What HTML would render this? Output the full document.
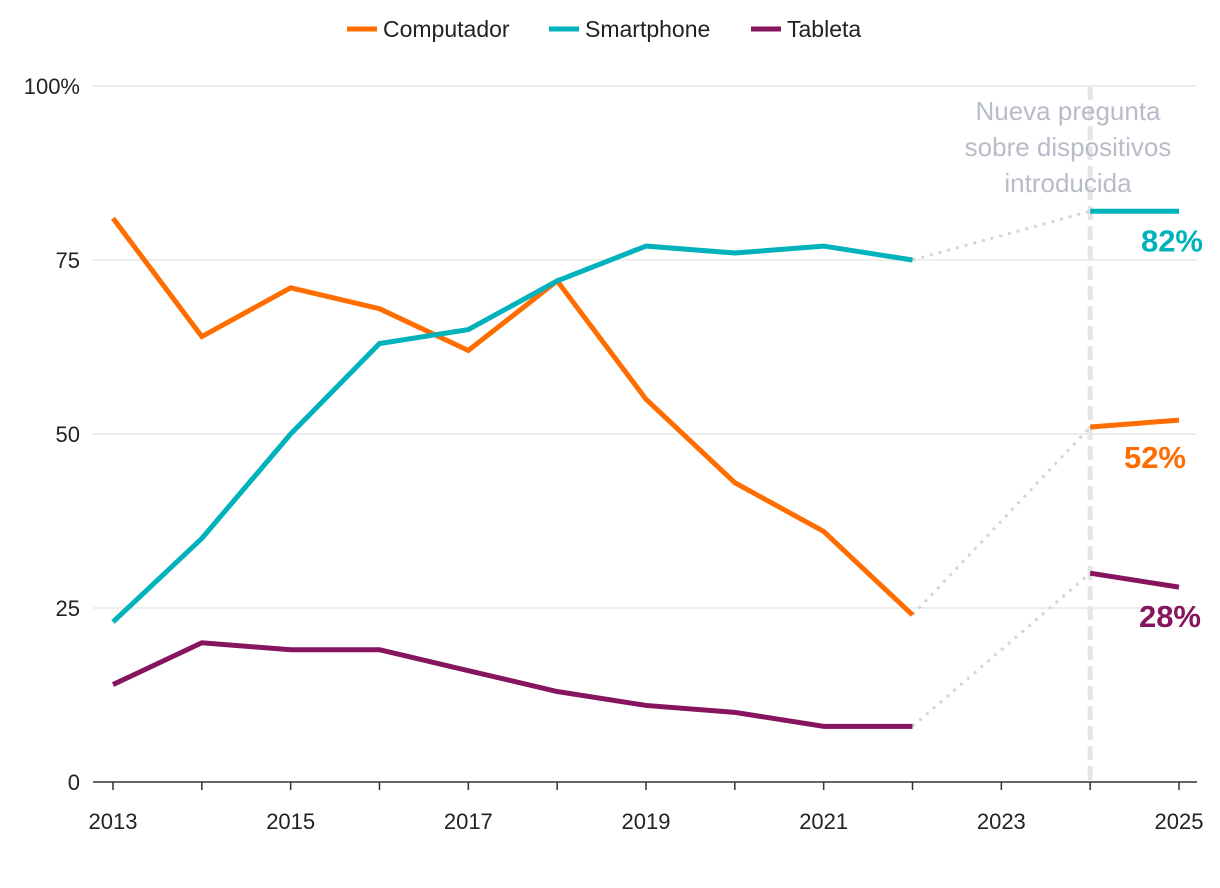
<!DOCTYPE html>
<html><head><meta charset="utf-8"><style>
body{margin:0;background:#fff;}
svg{display:block;font-family:"Liberation Sans",sans-serif;}
</style></head><body>
<svg id="chart" width="1220" height="888">
<g id="grid"></g><g id="axes"></g><g id="series"></g><g id="legend"></g>
</svg>
<script>
const years = [2013,2014,2015,2016,2017,2018,2019,2020,2021,2022];
const newYears = [2024,2025];
const computador = [81,64,71,68,62,72,55,43,36,24];
const smartphone = [23,35,50,63,65,72,77,76,77,75];
const tableta = [14,20,19,19,16,13,11,10,8,8];
const computadorNew = [51,52];
const smartphoneNew = [82,82];
const tabletaNew = [30,28];
const yTicks = [0,25,50,75,100];
const yTickLabels = ["0","25","50","75","100%"];
const xTicks = [2013,2015,2017,2019,2021,2023,2025];
const seriesNames = ["Computador","Smartphone","Tableta"];
const endLabels = ["52%","82%","28%"];

const NS="http://www.w3.org/2000/svg";
const X=y=>113+(y-2013)*(1179-113)/12;
const Y=v=>782-v*6.96;
function mk(tag,attrs,parent){const e=document.createElementNS(NS,tag);for(const k in attrs)e.setAttribute(k,attrs[k]);parent.appendChild(e);return e;}
const grid=document.getElementById('grid'),axes=document.getElementById('axes'),ser=document.getElementById('series'),leg=document.getElementById('legend');
yTicks.forEach((t,i)=>{
  if(t>0){const l=mk('line',{x1:93,x2:1197,y1:Y(t),y2:Y(t),stroke:'#dcdcdc','stroke-width':1},grid);
  
  }
  const tx=mk('text',{x:80,y:Y(t)+8,'text-anchor':'end','font-size':22,fill:'#222'},axes);tx.textContent=yTickLabels[i];
  
  
});
const base=mk('line',{x1:93,x2:1197,y1:782,y2:782,stroke:'#333','stroke-width':1.5},axes);


for(let y=2013;y<=2025;y++){mk('line',{x1:X(y),x2:X(y),y1:782,y2:790,stroke:'#333','stroke-width':1.5},axes);}
xTicks.forEach(y=>{const t=mk('text',{x:X(y),y:829,'text-anchor':'middle','font-size':22,fill:'#222'},axes);t.textContent=y;
  
  });
const vl=mk('line',{x1:X(2024),x2:X(2024),y1:86,y2:782,stroke:'#e6e6e6','stroke-width':5,'stroke-dasharray':'14,6'},grid);


["Nueva pregunta","sobre dispositivos","introducida"].forEach((s,i)=>{const t=mk('text',{x:1068,y:120+i*36,'text-anchor':'middle','font-size':26,fill:'#b8bcc8'},grid);t.textContent=s;
  
  });
const colors=["#ff6d00","#00b2bb","#86145e"];
const olds=[computador,smartphone,tableta],news=[computadorNew,smartphoneNew,tabletaNew];
const labelPos=[[1186,Y(52)+48],[1203,Y(82)+40],[1201,Y(28)+40]];
olds.forEach((d,i)=>{
  const last=d.length-1;
  const c=mk('line',{x1:X(years[last]),y1:Y(d[last]),x2:X(newYears[0]),y2:Y(news[i][0]),stroke:'#d6d6d6','stroke-width':3,'stroke-dasharray':'3,6'},ser);
  
  
});
olds.forEach((d,i)=>{
  const p=mk('polyline',{points:d.map((v,j)=>X(years[j])+','+Y(v)).join(' '),fill:'none',stroke:colors[i],'stroke-width':5,'stroke-linejoin':'miter'},ser);
  
  
  const q=mk('polyline',{points:news[i].map((v,j)=>X(newYears[j])+','+Y(v)).join(' '),fill:'none',stroke:colors[i],'stroke-width':5},ser);
  
  
  const t=mk('text',{x:labelPos[i][0],y:labelPos[i][1],'text-anchor':'end','font-size':31,'font-weight':'bold',fill:colors[i]},ser);t.textContent=endLabels[i];
  
  
});
const lx=[347,549,751];
seriesNames.forEach((n,i)=>{
  const g=mk('g',{},leg);
  
  
  mk('line',{x1:lx[i],x2:lx[i]+30,y1:29,y2:29,stroke:colors[i],'stroke-width':5},g);
  const t=mk('text',{x:lx[i]+36,y:37,'font-size':23,fill:'#222'},g);t.textContent=n;
});
</script>
</body></html>
